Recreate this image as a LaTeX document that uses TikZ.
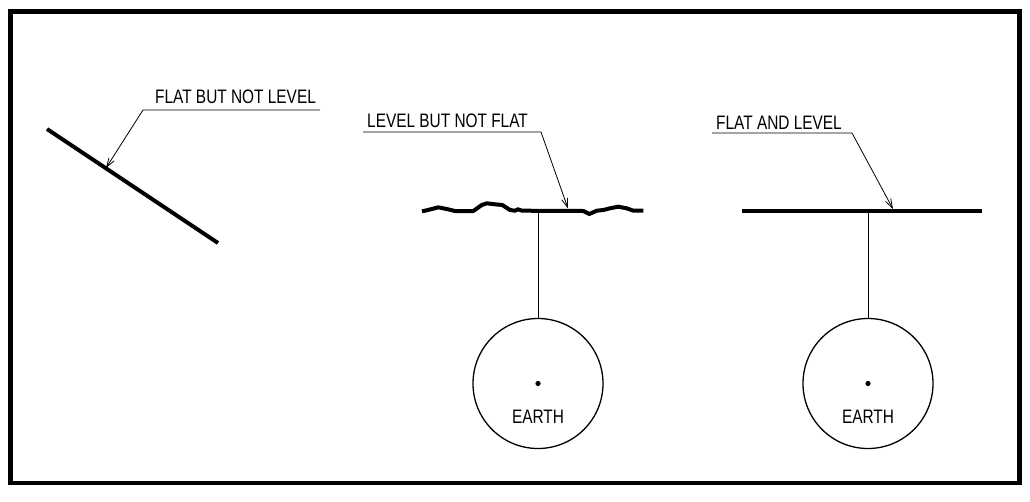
\documentclass[tikz,border=0pt]{standalone}
\usepackage{fontspec}
\setmainfont{Liberation Sans}[FakeStretch=0.79]
\usetikzlibrary{arrows.meta}

\begin{document}
\begin{tikzpicture}[x=1pt,y=-1pt,
  surface/.style={line width=4pt},
  leader/.style={line width=0.8pt,-{Straight Barb[length=9pt,width=6pt]}},
  tag/.style={font=\fontsize{19.5}{20}\selectfont,inner sep=0pt,anchor=base west},
  earth/.style={circle,draw,line width=1.3pt,minimum size=130pt,inner sep=0pt}]
\useasboundingbox (0,0) rectangle (1030,501);
% ---- frame
\draw[line width=4.5pt] (10.5,11.5) rectangle (1019.5,483);

% ---- flat but not level
\draw[surface] (47,129) -- (218,243); % tilted plank
\node[tag] (flatbnl) at (155,103.3) {FLAT BUT NOT LEVEL};
\coordinate (u1r) at (320,110);
\coordinate (u1l) at (143,110);
\coordinate (tip1) at (106,168);
\draw[leader] (u1r) -- (u1l) -- (tip1);

% ---- level but not flat
\draw[surface,line join=round] (422,211.3) -- (428,210) -- (438.3,207.3) -- (448,209.3) -- (455,211)
  -- (473.3,211) -- (481.7,205) -- (486.7,203.3) -- (495,204.3) -- (502.3,205) -- (510,210)
  -- (515,210.7) -- (518,209.3) -- (522,210.7) -- (583.3,211) -- (589.3,214) -- (596.7,210.7)
  -- (603.3,210) -- (610,208.3) -- (618.3,206.7) -- (626.7,208.3) -- (633.3,210.7) -- (643.3,210.7);
\node[tag] (levelbnf) at (367,127) {LEVEL BUT NOT FLAT};
\coordinate (u2l) at (363,132);
\coordinate (u2r) at (541,132);
\coordinate (tip2) at (568,208.5);
\draw[leader] (u2l) -- (u2r) -- (tip2);
\node[earth] (earth1) at (538,383.5) {};
\fill (earth1.center) circle (2.6pt);
\node[tag,anchor=base] (name1) at (538,423) {EARTH};
\coordinate (top1) at (538,211);
\draw[line width=1pt] (top1) -- (earth1.north);

% ---- flat and level
\draw[surface] (742,211) -- (982,211);
\node[tag] (flatal) at (716,129) {FLAT AND LEVEL};
\coordinate (u3l) at (712,133);
\coordinate (u3r) at (852,133);
\coordinate (tip3) at (893,209);
\draw[leader] (u3l) -- (u3r) -- (tip3);
\node[earth] (earth2) at (868,383.5) {};
\fill (earth2.center) circle (2.6pt);
\node[tag,anchor=base] (name2) at (868,423) {EARTH};
\coordinate (top2) at (868,211);
\draw[line width=1pt] (top2) -- (earth2.north);

\end{tikzpicture}
\end{document}
